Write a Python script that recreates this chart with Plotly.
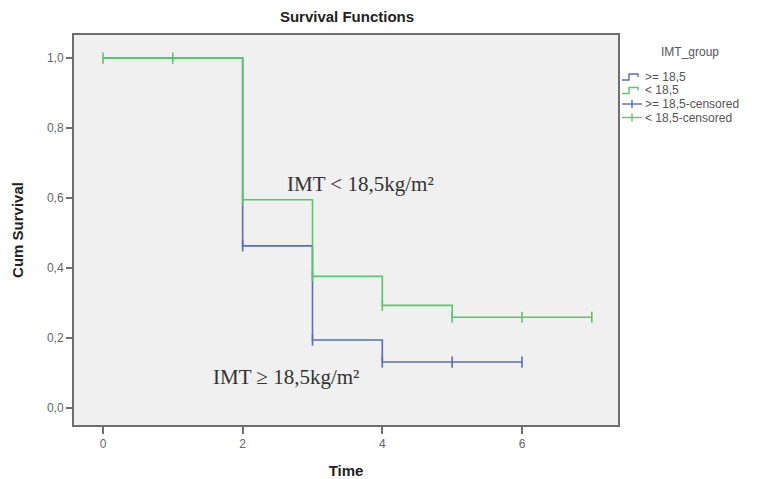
import plotly.graph_objects as go

# Data
time_hi = [0, 2, 3, 4, 6]
surv_hi = [1.0, 0.463, 0.194, 0.131, 0.131]
time_lo = [0, 2, 3, 4, 5, 7]
surv_lo = [1.0, 0.595, 0.376, 0.293, 0.259, 0.259]

cens_time_hi = [2, 3, 4, 5, 6]
cens_surv_hi = [0.463, 0.194, 0.131, 0.131, 0.131]
cens_time_lo = [0, 1, 2, 3, 4, 5, 6, 7]
cens_surv_lo = [1.0, 1.0, 0.595, 0.376, 0.293, 0.259, 0.259, 0.259]

y_tickvals = [0.0, 0.2, 0.4, 0.6, 0.8, 1.0]
y_ticktext = ["0,0", "0,2", "0,4", "0,6", "0,8", "1,0"]
x_tickvals = [0, 2, 4, 6]

legend_title = "IMT_group"
series_names = [">= 18,5", "< 18,5", ">= 18,5-censored", "< 18,5-censored"]

BLUE = "#5a6cb3"
GREEN = "#5cc46c"
AXIS = "#6e6e6e"

# figure geometry (page body has an 8px margin)
OFF = 8
W, H = 771, 471
L, R, T, B = 66, 161, 27, 54
PW, PH = W - L - R, H - T - B


def px(sx):
    return (sx - OFF - L) / PW


def py(sy):
    return 1 - (sy - OFF - T) / PH


fig = go.Figure()
fig.add_trace(go.Scatter(x=time_hi, y=surv_hi, mode="lines", line=dict(shape="hv", color=BLUE, width=1.6),
                         name=series_names[0]))
fig.add_trace(go.Scatter(x=time_lo, y=surv_lo, mode="lines", line=dict(shape="hv", color=GREEN, width=1.6),
                         name=series_names[1]))
fig.add_trace(go.Scatter(x=cens_time_hi, y=cens_surv_hi, mode="markers",
                         marker=dict(symbol="line-ns-open", size=8, color=BLUE, line=dict(color=BLUE, width=1.6)),
                         name=series_names[2]))
fig.add_trace(go.Scatter(x=cens_time_lo, y=cens_surv_lo, mode="markers",
                         marker=dict(symbol="line-ns-open", size=8, color=GREEN, line=dict(color=GREEN, width=1.6)),
                         name=series_names[3]))

serif = "Liberation Serif, Times New Roman, serif"
fig.add_annotation(x=3.69, y=0.64, text="IMT &lt; 18,5kg/m²", showarrow=False,
                   font=dict(family=serif, size=21, color="#333"))
fig.add_annotation(x=2.62, y=0.089, text="IMT ≥ 18,5kg/m²", showarrow=False,
                   font=dict(family=serif, size=21, color="#333"))

# custom compact legend (SPSS style)
shapes = []
fig.add_annotation(xref="paper", yref="paper", x=px(690), y=py(52), text=legend_title, showarrow=False,
                   font=dict(size=12, color="#555"), xanchor="center", yanchor="middle")
item_y = [77, 90.5, 104, 117.5]
colors = [BLUE, GREEN, BLUE, GREEN]
for i, (name, yy, c) in enumerate(zip(series_names, item_y, colors)):
    if i < 2:
        path = (f"M {px(622)},{py(yy + 3)} L {px(629)},{py(yy + 3)} L {px(629)},{py(yy - 3)} "
                f"L {px(638)},{py(yy - 3)} L {px(638)},{py(yy)}")
        shapes.append(dict(type="path", xref="paper", yref="paper", path=path,
                           line=dict(color=c, width=1.4)))
    else:
        shapes.append(dict(type="line", xref="paper", yref="paper", x0=px(622), x1=px(642),
                           y0=py(yy), y1=py(yy), line=dict(color=c, width=1.4)))
        shapes.append(dict(type="line", xref="paper", yref="paper", x0=px(632), x1=px(632),
                           y0=py(yy - 4), y1=py(yy + 4), line=dict(color=c, width=1.4)))
    fig.add_annotation(xref="paper", yref="paper", x=px(643), y=py(yy), text=name, showarrow=False,
                       font=dict(size=12, color="#555"), xanchor="left", yanchor="middle")

fig.update_layout(
    width=W, height=H,
    margin=dict(l=L, r=R, t=T, b=B, autoexpand=False),
    paper_bgcolor="white",
    plot_bgcolor="#f0f0f0",
    font=dict(family="Liberation Sans, Arial, sans-serif", color="#222"),
    title=dict(text="<b>Survival Functions</b>", x=(347 - OFF) / W, xanchor="center",
               y=1 - (17 - OFF) / H, yanchor="middle", font=dict(size=15, color="#222")),
    showlegend=False,
    shapes=shapes,
    xaxis=dict(range=[-0.415, 7.375], tickvals=x_tickvals, ticks="outside", ticklen=7, tickwidth=1.5,
               tickcolor=AXIS, showgrid=False, zeroline=False, showline=True, linecolor=AXIS, linewidth=2,
               mirror=True, tickfont=dict(size=12, color="#666"), automargin=False,
               title=dict(text="<b>Time</b>", font=dict(size=15, color="#222"), standoff=16)),
    yaxis=dict(range=[-0.049, 1.066], tickvals=y_tickvals, ticktext=y_ticktext, ticks="outside", ticklen=6,
               tickwidth=1.5, tickcolor=AXIS, showgrid=False, zeroline=False, showline=True, linecolor=AXIS,
               linewidth=2, mirror=True, tickfont=dict(size=12, color="#666"), automargin=False,
               title=dict(text="<b>Cum Survival</b>", font=dict(size=15, color="#222"), standoff=20)),
)

fig.write_html("out.html")
